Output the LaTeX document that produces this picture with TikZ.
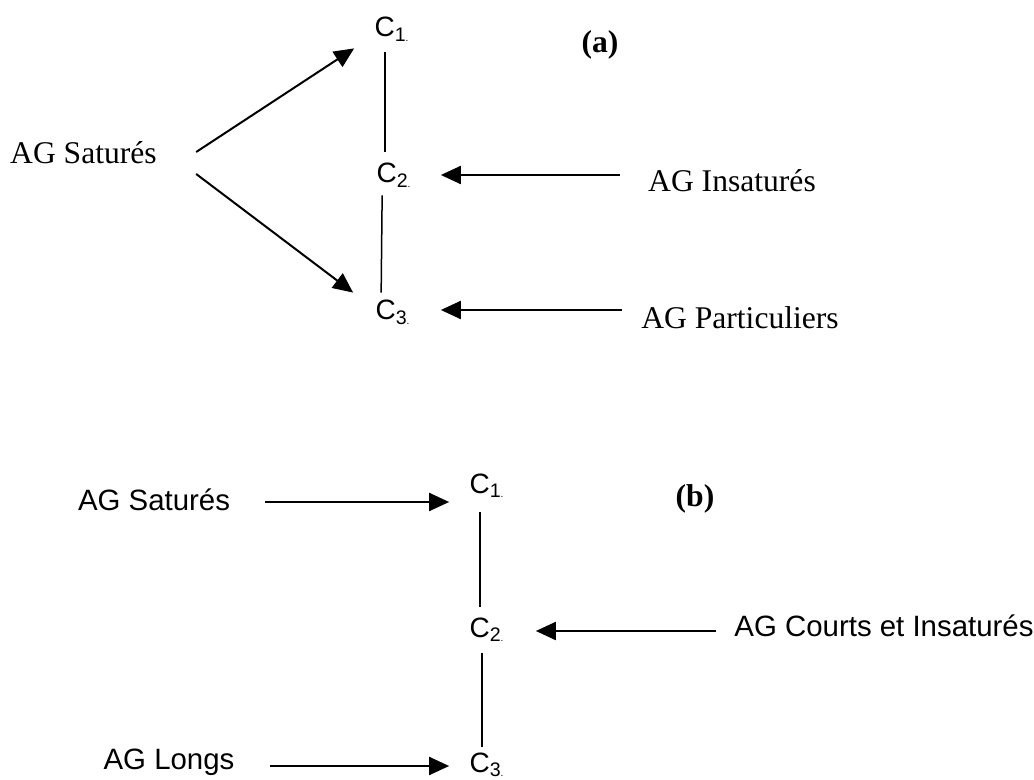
\documentclass[tikz,border=0pt]{standalone}
\usepackage{fontspec}
\setmainfont{Liberation Serif}
\setsansfont{Liberation Sans}
\usetikzlibrary{arrows.meta,calc}
\begin{document}
\begin{tikzpicture}[x=0.5pt,y=-0.5pt,
 lab/.style={inner sep=0pt,text height=10.5pt,text depth=0pt,font=\fontsize{15.8}{18}\selectfont},
 slab/.style={inner sep=0pt,text height=10.5pt,text depth=0pt,font=\sffamily\fontsize{14.7}{17}\selectfont},
 carb/.style={inner sep=0pt,text height=10pt,text depth=0pt,font=\sffamily\fontsize{14}{16}\selectfont},
 tag/.style={inner sep=0pt,font=\bfseries\fontsize{15.8}{18}\selectfont},
 arr/.style={line width=1pt,-{Triangle[length=10pt,width=9pt]}},
 bond/.style={line width=.75pt}]
 \useasboundingbox (0,0) rectangle (1034,780);
 % (a)
 \node[carb] (c1a) at (392,27) {C\textsubscript{1{\tiny.}}};
 \node[carb] (c2a) at (394,173) {C\textsubscript{2{\tiny.}}};
 \node[carb] (c3a) at (393,310) {C\textsubscript{3{\tiny.}}};
 \node[tag] (ta) at (600,45) {(a)};
 \node[lab] (satA) at (83.5,153.5) {AG Saturés};
 \node[lab] (insA) at (732,181) {AG Insaturés};
 \node[lab] (parA) at (740,318) {AG Particuliers};
 \draw[bond] ($(c1a.south west)+(11,15)$) -- ($(c2a.north west)+(9,-11)$);
 \draw[bond] ($(c2a.south west)+(6,12)$) -- ($(c3a.north west)+(6,-7)$);
 \draw[arr] ($(satA.east)+(39,-1.5)$) -- ($(c1a.south west)+(-20,11)$);
 \draw[arr] ($(satA.east)+(39,20.5)$) -- ($(c3a.north west)+(-22,-7)$);
 \draw[arr] ($(insA.west)+(-28,-6)$) -- ($(c2a.east)+(29,2)$);
 \draw[arr] ($(parA.west)+(-19,-8)$) -- ($(c3a.east)+(30,0)$);
 % (b)
 \node[carb] (c1b) at (487,483.5) {C\textsubscript{1{\tiny.}}};
 \node[carb] (c2b) at (487,627.5) {C\textsubscript{2{\tiny.}}};
 \node[carb] (c3b) at (487,762) {C\textsubscript{3{\tiny.}}};
 \node[tag] (tb) at (695,499) {(b)};
 \node[slab] (satB) at (154,500) {AG Saturés};
 \node[slab] (couB) at (884,626) {AG Courts et Insaturés};
 \node[slab] (lonB) at (169,759) {AG Longs};
 \draw[bond] ($(c1b.south west)+(11,18)$) -- ($(c2b.north west)+(11,-10)$);
 \draw[bond] ($(c2b.south west)+(13,15)$) -- ($(c3b.north west)+(13,-5)$);
 \draw[arr] ($(satB.east)+(35,2)$) -- ($(c1b.west)+(-20,18.5)$);
 \draw[arr] ($(couB.west)+(-18,5)$) -- ($(c2b.east)+(31,3.5)$);
 \draw[arr] ($(lonB.east)+(35,7)$) -- ($(c3b.west)+(-20,4)$);
\end{tikzpicture}
\end{document}
